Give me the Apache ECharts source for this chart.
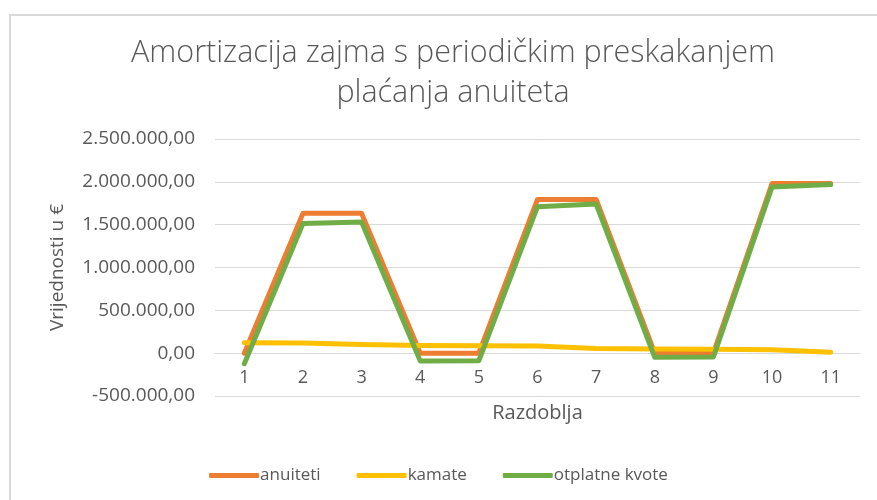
<!DOCTYPE html>
<html>
<head>
<meta charset="utf-8">
<script src="https://cdn.jsdelivr.net/npm/echarts@6/dist/echarts.min.js"></script>
<style>
  html, body { margin: 0; padding: 0; background: #ffffff; }
  #chart { width: 877px; height: 500px; }
</style>
</head>
<body>
<div id="chart"></div>
<script>
// Razdoblja (periods)
const periods = ['1', '2', '3', '4', '5', '6', '7', '8', '9', '10', '11'];
// Anuiteti: payments skipped every other pair of periods
const anuiteti = [0, 1632000, 1632000, 0, 0, 1795000, 1795000, 0, 0, 1981000, 1981000];
// Kamate (interest)
const kamate = [123000, 118000, 100000, 90000, 88000, 85000, 55000, 48000, 45000, 40000, 12000];
// Otplatne kvote (principal repayments)
const otplatneKvote = [-123000, 1514000, 1532000, -90000, -88000, 1710000, 1740000, -48000, -45000, 1941000, 1969000];

const yMin = -500000, yMax = 2500000, yStep = 500000;

// Croatian number format: 1.500.000,00
function hrFormat(v) {
  const neg = v < 0;
  const s = Math.abs(Math.round(v)).toString().replace(/\B(?=(\d{3})+(?!\d))/g, '.');
  return (neg ? '-' : '') + s + ',00';
}

const FONT = '"Open Sans", "DejaVu Sans", sans-serif';
const GREY = '#595959';

const chart = echarts.init(document.getElementById('chart'), null, { renderer: 'canvas' });

const lineSeries = (name, data, color) => ({
  name: name,
  type: 'line',
  data: data,
  showSymbol: false,
  symbol: 'none',
  smooth: false,
  color: color,
  lineStyle: { width: 5, color: color, cap: 'round', join: 'round' },
  emphasis: { disabled: true }
});

chart.setOption({
  animation: false,
  backgroundColor: '#ffffff',
  textStyle: { fontFamily: FONT },
  graphic: [{
    type: 'rect',
    shape: { x: 10, y: 15, width: 900, height: 600 },
    style: { fill: 'none', stroke: '#d9d9d9', lineWidth: 2 },
    silent: true,
    z: -10
  }],
  title: {
    text: 'Amortizacija zajma s periodičkim preskakanjem\nplaćanja anuiteta',
    left: 448,
    textAlign: 'center',
    top: 28,
    textStyle: {
      fontFamily: FONT,
      fontWeight: 300,
      fontSize: 30.5,
      lineHeight: 40,
      color: GREY
    }
  },
  legend: {
    bottom: 11,
    left: 'center',
    itemWidth: 50,
    itemHeight: 5,
    itemGap: 36,
    icon: 'roundRect',
    textStyle: { fontFamily: FONT, fontSize: 17, color: GREY, padding: [0, 0, 0, -4] },
    data: ['anuiteti', 'kamate', 'otplatne kvote']
  },
  grid: { left: 215, right: 17, top: 139, bottom: 104, containLabel: false },
  xAxis: {
    type: 'category',
    data: periods,
    boundaryGap: true,
    name: 'Razdoblja',
    nameLocation: 'middle',
    nameGap: 7,
    nameTextStyle: { fontFamily: FONT, fontSize: 20, color: GREY },
    axisLine: { onZero: true, lineStyle: { color: '#d9d9d9', width: 1 } },
    axisTick: { show: false },
    axisLabel: { fontFamily: FONT, fontSize: 18, color: GREY, margin: -27 }
  },
  yAxis: {
    type: 'value',
    min: yMin,
    max: yMax,
    interval: yStep,
    name: 'Vrijednosti u €',
    nameLocation: 'middle',
    nameRotate: 90,
    nameGap: 148,
    nameTextStyle: { fontFamily: FONT, fontSize: 19, color: GREY },
    axisLine: { show: false },
    axisTick: { show: false },
    splitLine: { lineStyle: { color: '#d9d9d9', width: 1 } },
    axisLabel: { fontFamily: FONT, fontSize: 19, color: GREY, margin: 20, formatter: hrFormat }
  },
  series: [
    lineSeries('anuiteti', anuiteti, '#ED7D31'),
    lineSeries('kamate', kamate, '#FFC000'),
    lineSeries('otplatne kvote', otplatneKvote, '#70AD47')
  ]
});
</script>
</body>
</html>
